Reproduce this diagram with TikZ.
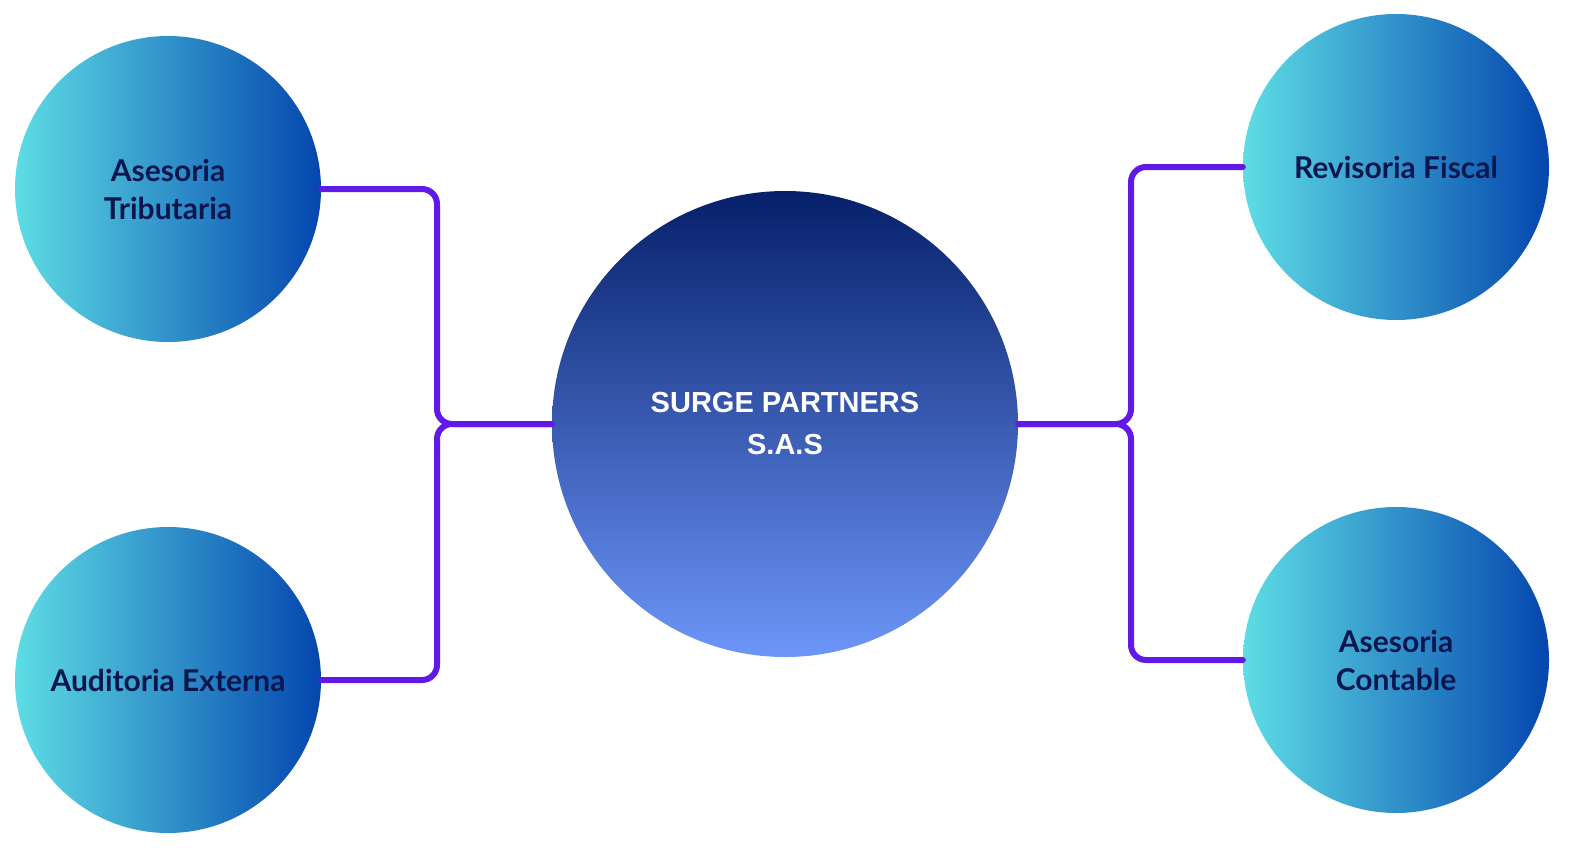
\documentclass[tikz,border=0pt]{standalone}
\usepackage{fontspec}
\setmainfont{Lato}
\newfontfamily\hubfont{Liberation Sans}
\usepackage{tikz}
\usetikzlibrary{calc}
\definecolor{linkcol}{HTML}{6119E8}
\definecolor{textcol}{HTML}{0A174E}
\definecolor{cyanL}{HTML}{5EDDE5}
\definecolor{blueR}{HTML}{0446AE}
\definecolor{navyT}{HTML}{06206A}
\definecolor{blueB}{HTML}{6D96F9}
\tikzset{vertex/.style = {shape=circle,minimum size=306pt,inner sep=0pt,left color=cyanL,right color=blueR,
  text=textcol,font=\fontsize{30}{38}\selectfont\bfseries,align=center}}
\tikzset{hub/.style = {shape=circle,minimum size=466pt,inner sep=0pt,top color=navyT,bottom color=blueB,
  text=white,font=\hubfont\fontsize{29}{42}\selectfont\bfseries,align=center}}
\tikzset{link/.style = {draw=linkcol,line width=6pt,rounded corners=15pt,line cap=round}}

\begin{document}
\begin{tikzpicture}[x=1pt,y=-1pt]
                \useasboundingbox (0,0) rectangle (1585,857);
                \node[hub] (S) at (785,424) {SURGE PARTNERS\\S.A.S};
                \node[vertex] (T) at (168,189) {Asesoria\\Tributaria};
                \node[vertex] (X) at (168,680) {Auditoria Externa};
                \node[vertex] (R) at (1396,167) {Revisoria Fiscal};
                \node[vertex] (C) at (1396,660) {Asesoria\\Contable};
                \coordinate (L) at (437,424);
                \coordinate (M) at (1131,424);

                \draw[link] (T.east) -| (L) -- (S.west);
                \draw[link] (X.east) -| (L) -- (S.west);
                \draw[link] (S.east) -- (M) |- (R.west);
                \draw[link] (S.east) -- (M) |- (C.west);
            \end{tikzpicture}
\end{document}
